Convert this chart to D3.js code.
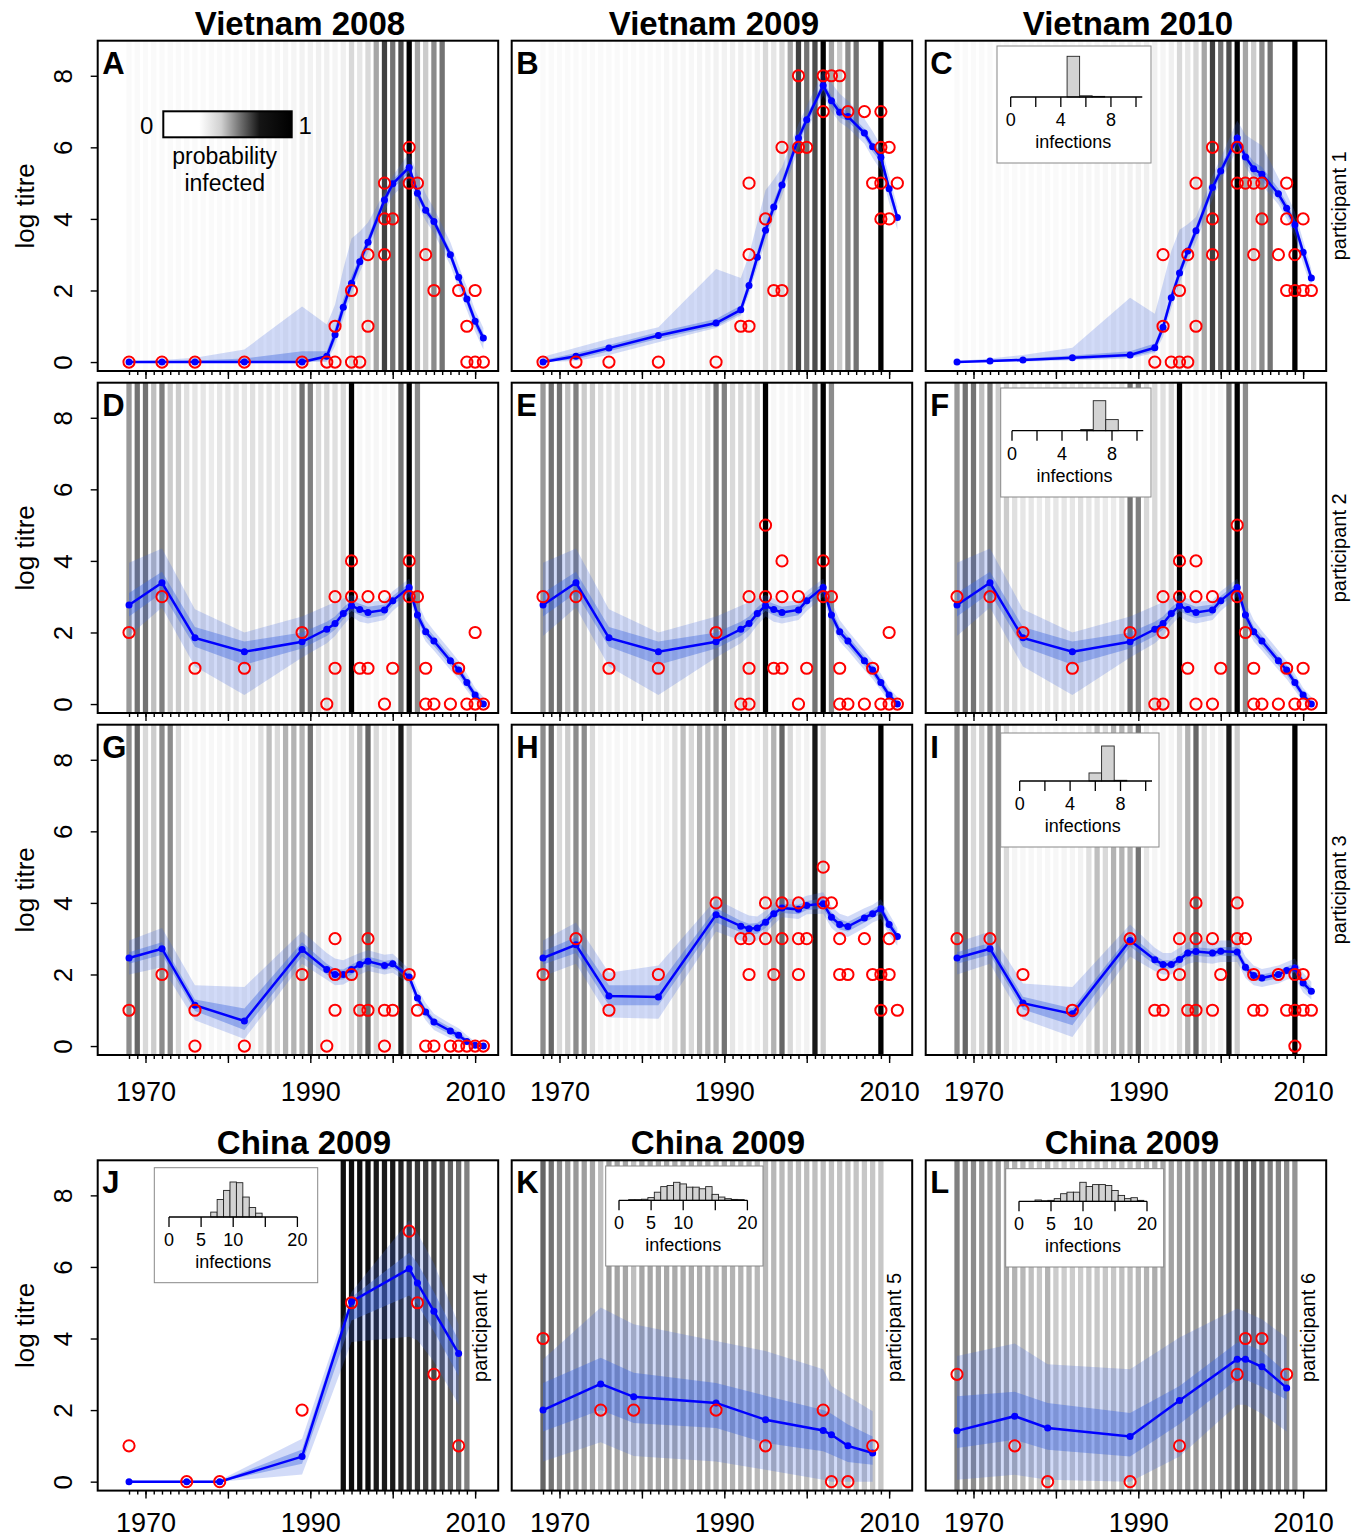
<!DOCTYPE html>
<html>
<head>
<meta charset="utf-8">
<script src="https://cdn.jsdelivr.net/npm/d3@7"></script>
<style>
  body { margin: 0; background: #fff; }
  svg text { font-family: "Liberation Sans", Arial, Helvetica, sans-serif; fill: #000; }
</style>
</head>
<body>
<svg id="chart" width="1361" height="1538"></svg>
<script>
// ---------------- podatki ----------------
const stripYears = [1968,1969,1970,1971,1972,1973,1974,1975,1976,1977,1978,1979,1980,1981,1982,1983,1984,1985,1986,1987,1988,1989,1990,1991,1992,1993,1994,1995,1996,1997,1998,1999,2000,2001,2002,2003,2004,2005,2006,2007,2008,2009,2010,2011];
const vnYears = [1968,1972,1976,1982,1989,1992,1993,1994,1995,1996,1997,1999,2000,2002,2003,2004,2005,2007,2008,2009,2010,2011];
const cnYears = [1968,1975,1979,1989,1995,2002,2003,2005,2008];

const columnTitles = ["Vietnam 2008", "Vietnam 2009", "Vietnam 2010"];
const chinaTitles = ["China 2009", "China 2009", "China 2009"];
const participantLabels = ["participant 1", "participant 2", "participant 3", "participant 4", "participant 5", "participant 6"];
const yTickValues = [0, 2, 4, 6, 8];
const xMinorTicks = stripYears.slice(0, 43);
const xMajorTicks = [1970, 1980, 1990, 2000, 2010];
const xTickLabels = [1970, 1990, 2010];

// verjetnost okužbe po letih (sivi stolpci)
const probA = [0.02,0.02,0.02,0.02,0.02,0.02,0.02,0.02,0.02,0.02,0.02,0.02,0.02,0.02,0.02,0.03,0.03,0.03,0.03,0.04,0.04,0.05,0.05,0.06,0.06,0.04,0.06,0.15,0.1,0.15,0.35,0.75,0.55,0.7,1.0,0.35,0.2,0.45,0.55,0,0,0,0,0];
const probB = [0.02,0.02,0.02,0.02,0.02,0.02,0.02,0.02,0.02,0.02,0.02,0.02,0.02,0.02,0.02,0.03,0.03,0.03,0.03,0.04,0.04,0.05,0.05,0.06,0.06,0.04,0.06,0.15,0.1,0.15,0.35,0.75,0.55,0.7,1.0,0.35,0.2,0.45,0.55,0,0,1.0,0,0];
const probP2 = [0.4,0.55,0.55,0.25,0.5,0.2,0.2,0.12,0.1,0.1,0.08,0.1,0.1,0.1,0.1,0.12,0.1,0.1,0.08,0.08,0.12,0.55,0.5,0.15,0.15,0.12,0.15,1.0,0.03,0.03,0.03,0.03,0.03,0.55,1.0,0.45,0,0,0,0,0,0,0,0];
const probG = [0.45,0.6,0.15,0.2,0.45,0.45,0.15,0.04,0.03,0.03,0.03,0.03,0.03,0.04,0.04,0.05,0.12,0.25,0.15,0.3,0.3,0.3,0.55,0.1,0.04,0.04,0.04,0.15,0.3,0.6,0.15,0.05,0.05,0.9,0.2,0,0,0,0,0,0,0,0,0];
const probH = [0.45,0.6,0.15,0.2,0.45,0.45,0.15,0.04,0.03,0.03,0.03,0.03,0.03,0.04,0.04,0.05,0.12,0.25,0.15,0.3,0.3,0.3,0.55,0.1,0.04,0.04,0.04,0.15,0.3,0.6,0.15,0.05,0.05,0.9,0.2,0,0,0,0,0,0,1.0,0,0];
const probJ = [0,0,0,0,0,0,0,0,0,0,0,0,0,0,0,0,0,0,0,0,0,0,0,0,0,0,0.95,0.95,0.95,0.95,0.9,0.9,0.9,0.85,0.8,0.78,0.75,0.72,0.68,0.62,0.58,0.5,0,0];
const probK = [0.6,0.55,0.45,0.4,0.4,0.38,0.35,0.25,0.38,0.36,0.35,0.25,0.35,0.35,0.34,0.34,0.33,0.33,0.33,0.32,0.32,0.3,0.32,0.3,0.3,0.3,0.28,0.28,0.28,0.27,0.27,0.26,0.26,0.25,0.25,0.24,0.24,0.23,0.23,0.22,0.22,0.22,0,0];
const probL = [0.5,0.45,0.45,0.4,0.38,0.38,0.35,0.3,0.28,0.25,0.22,0.3,0.2,0.2,0.2,0.2,0.22,0.22,0.22,0.22,0.25,0.25,0.28,0.3,0.32,0.34,0.36,0.38,0.4,0.4,0.42,0.44,0.46,0.5,0.58,0.6,0.58,0.55,0.5,0.48,0.45,0.42,0,0];

// modelirani titri: mediana in intervala (95 % in 50 %)
const medA  = [0,0,0,0,0,0.16,0.76,1.53,2.2,2.8,3.35,4.53,4.98,5.44,4.72,4.24,3.93,3.0,2.37,1.76,1.14,0.67];
const hi95A = [0.03,0.06,0.12,0.35,1.55,1.05,1.6,2.6,3.45,3.65,3.9,4.75,5.2,5.85,5.25,4.7,4.3,3.35,2.7,2.1,1.45,0.95];
const lo95A = [0,0,0,0,0,0,0.45,1.2,1.9,2.5,3.05,4.2,4.65,5.1,4.4,3.95,3.6,2.7,2.05,1.45,0.85,0.35];
const hi50A = [0.01,0.02,0.04,0.1,0.3,0.3,0.95,1.75,2.4,2.95,3.5,4.65,5.1,5.55,4.85,4.35,4.05,3.12,2.5,1.9,1.28,0.8];
const lo50A = [0,0,0,0,0,0.05,0.6,1.35,2.05,2.65,3.2,4.4,4.85,5.3,4.6,4.12,3.8,2.88,2.25,1.62,1.0,0.52];

const medB  = [0,0.16,0.39,0.74,1.09,1.46,2.14,2.93,3.68,4.33,4.95,6.26,6.77,7.73,7.3,6.98,6.86,6.4,6.02,5.72,4.84,4.04];
const hi95B = [0.15,0.4,0.65,0.97,2.6,2.35,3.0,3.9,4.8,5.1,5.45,6.65,7.15,8.15,7.8,7.5,7.3,6.8,6.45,6.05,5.2,4.35];
const lo95B = [0,0.03,0.2,0.55,0.95,1.3,1.9,2.65,3.35,4.05,4.65,5.95,6.45,7.45,7.0,6.7,6.55,6.1,5.7,5.35,4.45,3.7];
const hi50B = [0.05,0.25,0.48,0.84,1.2,1.58,2.3,3.1,3.85,4.5,5.1,6.4,6.9,7.85,7.45,7.12,7.0,6.52,6.15,5.85,4.98,4.15];
const lo50B = [0,0.08,0.3,0.65,1.0,1.36,2.0,2.78,3.52,4.18,4.8,6.12,6.62,7.6,7.15,6.84,6.72,6.28,5.88,5.58,4.68,3.9];

const medC  = [0,0.03,0.06,0.12,0.2,0.4,0.97,1.8,2.49,3.1,3.67,4.88,5.34,6.26,5.73,5.4,5.25,4.7,4.3,3.84,3.07,2.35];
const hi95C = [0.03,0.1,0.2,0.4,1.8,1.35,2.2,3.1,3.7,3.85,4.05,5.2,5.7,6.75,6.35,6.2,6.05,5.15,4.7,4.2,3.4,2.6];
const lo95C = [0,0,0.01,0.05,0.1,0.25,0.7,1.5,2.2,2.8,3.35,4.55,5.05,5.95,5.45,5.1,4.95,4.4,4.0,3.5,2.75,2.05];
const hi50C = [0.01,0.05,0.1,0.18,0.3,0.52,1.12,1.95,2.62,3.22,3.8,5.0,5.48,6.4,5.9,5.6,5.45,4.85,4.45,3.98,3.2,2.48];
const lo50C = [0,0.01,0.03,0.08,0.14,0.3,0.84,1.65,2.36,2.96,3.52,4.74,5.2,6.12,5.58,5.24,5.08,4.55,4.15,3.68,2.92,2.2];

const medP2  = [2.77,3.39,1.85,1.46,1.74,2.09,2.25,2.53,2.75,2.64,2.56,2.63,2.89,3.26,2.49,2.02,1.76,1.21,0.95,0.6,0.25,0.0];
const hi95P2 = [3.95,4.35,2.65,2.0,2.45,2.75,2.85,2.95,3.05,2.95,2.85,2.9,3.15,3.5,2.85,2.35,2.05,1.5,1.2,0.85,0.45,0.2];
const lo95P2 = [1.9,2.7,1.05,0.25,1.3,1.7,1.9,2.2,2.45,2.3,2.25,2.35,2.6,3.0,2.2,1.75,1.5,0.95,0.7,0.38,0.08,0];
const hi50P2 = [3.1,3.7,2.15,1.75,2.0,2.3,2.45,2.7,2.9,2.8,2.72,2.78,3.02,3.38,2.65,2.17,1.9,1.34,1.08,0.72,0.35,0.08];
const lo50P2 = [2.45,3.1,1.6,1.1,1.55,1.9,2.08,2.38,2.6,2.48,2.4,2.48,2.76,3.12,2.35,1.88,1.62,1.08,0.82,0.48,0.15,0];

const medG  = [2.46,2.72,1.14,0.70,2.70,2.14,2.0,2.0,2.14,2.28,2.37,2.25,2.3,1.93,1.34,0.95,0.67,0.42,0.3,0.13,0.02,0];
const hi95G = [2.95,3.3,1.7,1.65,3.2,2.6,2.45,2.4,2.5,2.6,2.68,2.55,2.58,2.15,1.6,1.2,0.9,0.62,0.5,0.3,0.12,0.04];
const lo95G = [2.0,2.2,0.72,0.2,2.3,1.85,1.7,1.72,1.85,2.0,2.1,2.0,2.05,1.75,1.1,0.72,0.45,0.22,0.12,0.02,0,0];
const hi50G = [2.62,2.9,1.3,1.05,2.9,2.3,2.15,2.14,2.27,2.4,2.5,2.38,2.42,2.02,1.45,1.05,0.78,0.52,0.4,0.2,0.06,0.01];
const lo50G = [2.3,2.55,0.98,0.45,2.5,2.0,1.85,1.86,2.0,2.15,2.25,2.12,2.18,1.85,1.22,0.85,0.56,0.32,0.2,0.06,0,0];

const medH  = [2.46,2.83,1.40,1.37,3.67,3.35,3.28,3.3,3.46,3.7,3.86,3.82,3.93,3.98,3.6,3.4,3.34,3.58,3.7,3.84,3.4,3.06];
const hi95H = [2.95,3.45,2.05,2.25,4.1,3.75,3.65,3.62,3.78,3.98,4.12,4.1,4.2,4.3,3.9,3.7,3.62,3.85,3.95,4.1,3.7,3.3];
const lo95H = [1.95,2.3,0.8,0.76,3.2,2.95,2.9,2.95,3.15,3.4,3.6,3.55,3.68,3.7,3.3,3.1,3.05,3.3,3.45,3.55,3.1,2.8];
const hi50H = [2.65,3.05,1.7,1.7,3.85,3.5,3.42,3.44,3.6,3.82,3.98,3.95,4.05,4.12,3.74,3.54,3.47,3.7,3.82,3.96,3.54,3.18];
const lo50H = [2.28,2.6,1.14,1.14,3.45,3.18,3.12,3.14,3.3,3.56,3.72,3.68,3.8,3.84,3.46,3.26,3.2,3.45,3.58,3.7,3.25,2.93];

const medI  = [2.46,2.72,1.2,0.9,2.95,2.41,2.28,2.28,2.42,2.6,2.64,2.6,2.65,2.63,2.2,1.97,1.9,2.0,2.11,2.18,1.76,1.53];
const hi95I = [2.9,3.2,1.75,1.65,3.4,2.75,2.6,2.6,2.75,2.9,2.95,2.9,2.95,2.95,2.5,2.25,2.15,2.25,2.35,2.45,2.05,1.8];
const lo95I = [2.0,2.3,0.75,0.25,2.5,2.1,2.0,2.0,2.15,2.3,2.35,2.3,2.35,2.35,1.9,1.7,1.65,1.75,1.85,1.9,1.5,1.3];
const hi50I = [2.62,2.88,1.38,1.05,3.12,2.54,2.4,2.4,2.54,2.72,2.76,2.72,2.77,2.76,2.32,2.08,2.0,2.1,2.22,2.3,1.88,1.64];
const lo50I = [2.3,2.55,1.02,0.58,2.78,2.28,2.16,2.16,2.3,2.48,2.52,2.48,2.53,2.5,2.08,1.86,1.8,1.9,2.0,2.06,1.64,1.42];

const medJ  = [0,0,0,0.7,5.03,5.95,5.55,4.76,3.58];
const hi95J = [0.04,0.04,0.04,1.2,5.3,7.3,6.95,6.1,4.4];
const lo95J = [0,0,0,0.2,3.9,4.05,3.95,3.35,2.15];
const hi50J = [0.02,0.02,0.02,0.9,5.15,6.4,6.1,5.3,3.95];
const lo50J = [0,0,0,0.5,4.5,5.2,4.95,4.2,2.95];

const medK  = [2.0,2.73,2.37,2.2,1.73,1.43,1.31,1.0,0.8];
const hi95K = [3.42,4.87,4.4,3.93,3.65,3.14,2.67,2.39,1.97];
const lo95K = [0.56,1.1,0.72,0.56,0.33,0.05,0,0,0];
const hi50K = [2.76,3.46,3.04,2.76,2.4,2.0,1.9,1.6,1.26];
const lo50K = [1.4,2.0,1.64,1.5,1.08,0.85,0.75,0.55,0.47];

const medL  = [1.42,1.83,1.5,1.26,2.27,3.42,3.42,3.21,2.62];
const hi95L = [3.51,3.86,3.28,3.14,4.03,4.84,4.75,4.54,4.03];
const lo95L = [0.05,0.19,0.05,0,0.7,2.15,2.15,1.9,1.4];
const hi50L = [2.39,2.51,2.2,1.92,2.67,3.89,3.85,3.65,3.04];
const lo50L = [0.94,1.17,0.89,0.7,1.61,2.86,2.85,2.65,2.29];

// izmerjeni titri [leto, log titer]
const obsA = [[1968,0],[1972,0],[1976,0],[1982,0],[1989,0],[1992,0],[1993,0],[1993,1],[1995,0],[1995,2],[1996,0],[1997,1],[1997,3],[1999,3],[1999,4],[1999,5],[2000,4],[2002,6],[2002,5],[2003,5],[2004,3],[2005,2],[2008,2],[2009,1],[2009,0],[2010,2],[2010,0],[2011,0]];
const obsB = [[1968,0],[1972,0],[1976,0],[1982,0],[1989,0],[1992,1],[1993,1],[1993,3],[1993,5],[1995,4],[1996,2],[1997,2],[1997,6],[1999,6],[2000,6],[1999,8],[2002,8],[2003,8],[2004,8],[2002,7],[2005,7],[2007,7],[2009,7],[2009,6],[2010,6],[2008,5],[2009,5],[2011,5],[2009,4],[2010,4]];
const obsC = [[1992,0],[1993,1],[1994,0],[1995,0],[1996,0],[1995,2],[1997,1],[1993,3],[1996,3],[1999,3],[1999,4],[1997,5],[1999,6],[2002,6],[2002,5],[2003,5],[2004,5],[2005,5],[2005,4],[2004,3],[2007,3],[2008,5],[2008,4],[2009,3],[2010,4],[2008,2],[2009,2],[2010,2],[2011,2]];
const obsD = [[1968,2],[1972,3],[1976,1],[1982,1],[1989,2],[1992,0],[1993,3],[1993,1],[1995,4],[1995,3],[1996,1],[1997,1],[1997,3],[1999,3],[1999,0],[2000,1],[2002,4],[2002,3],[2003,3],[2004,1],[2004,0],[2005,0],[2007,0],[2008,1],[2009,0],[2010,2],[2010,0],[2011,0]];
const obsE = [[1968,3],[1972,3],[1976,1],[1982,1],[1989,2],[1992,0],[1993,0],[1993,3],[1993,1],[1995,5],[1995,3],[1996,1],[1997,1],[1997,4],[1997,3],[1999,3],[1999,0],[2000,1],[2002,4],[2002,3],[2003,3],[2004,1],[2004,0],[2005,0],[2007,0],[2008,1],[2009,0],[2010,2],[2010,0],[2011,0]];
const obsF = [[1968,3],[1972,3],[1976,2],[1982,1],[1989,2],[1992,0],[1993,0],[1993,3],[1993,2],[1995,4],[1995,3],[1996,1],[1997,4],[1997,3],[1997,0],[1999,3],[1999,0],[2000,1],[2002,5],[2002,3],[2003,2],[2004,1],[2004,0],[2005,0],[2007,0],[2008,1],[2009,0],[2010,1],[2010,0],[2011,0]];
const obsG = [[1968,1],[1972,2],[1976,1],[1976,0],[1982,0],[1989,2],[1992,0],[1993,3],[1993,2],[1993,1],[1995,2],[1996,1],[1997,1],[1997,3],[1999,1],[1999,0],[2000,1],[2002,2],[2003,1],[2004,0],[2005,0],[2007,0],[2008,0],[2009,0],[2010,0],[2011,0]];
const obsH = [[1968,2],[1972,3],[1976,2],[1976,1],[1982,2],[1989,4],[1992,3],[1993,3],[1993,2],[1995,4],[1995,3],[1996,2],[1997,4],[1997,3],[1999,4],[1999,3],[1999,2],[2000,3],[2002,5],[2002,4],[2003,4],[2004,3],[2004,2],[2005,2],[2007,3],[2008,2],[2009,2],[2009,1],[2010,3],[2010,2],[2011,1]];
const obsI = [[1968,3],[1972,3],[1976,2],[1976,1],[1982,1],[1989,3],[1992,1],[1993,1],[1993,2],[1995,3],[1995,2],[1996,1],[1997,1],[1997,3],[1997,4],[1999,3],[1999,1],[2000,2],[2002,4],[2002,3],[2003,3],[2004,2],[2004,1],[2005,1],[2007,2],[2008,1],[2009,2],[2009,1],[2009,0],[2010,2],[2010,1],[2011,1]];
const obsJ = [[1968,1],[1975,0],[1979,0],[1989,2],[1995,5],[2002,7],[2003,5],[2005,3],[2008,1]];
const obsK = [[1968,4],[1975,2],[1979,2],[1989,2],[1995,1],[2002,2],[2003,0],[2005,0],[2008,1]];
const obsL = [[1968,3],[1975,1],[1979,0],[1989,0],[1995,1],[2002,3],[2003,4],[2005,4],[2008,3]];

// histogrami števila okužb (relativna višina)
const histC = { bins: [5,6,7], freq: [1.0,0.03,0.015] };
const histF = { bins: [6,7,8], freq: [0.04,1.0,0.37] };
const histI = { bins: [6,7,8], freq: [0.23,1.0,0.02] };
const histJ = { bins: [7,8,9,10,11,12,13,14], freq: [0.14,0.5,0.76,1.0,0.98,0.57,0.27,0.11] };
const histK = { bins: [2,3,4,5,6,7,8,9,10,11,12,13,14,15,16,17,18,19], freq: [0.04,0.04,0.06,0.15,0.45,0.76,0.82,1.0,0.91,0.73,0.73,0.64,0.76,0.33,0.18,0.09,0.05,0.04] };
const histL = { bins: [3,4,5,6,7,8,9,10,11,12,13,14,15,16,17,18,19], freq: [0.07,0.03,0.05,0.14,0.4,0.48,0.48,1.0,0.78,0.88,0.88,0.83,0.57,0.31,0.14,0.19,0.05] };
const histTicks10 = [0,2,4,6,8,10], histLabels10 = [0,4,8];
const histTicks20 = [0,5,10,15,20], histLabels20 = [0,5,10,20];

// ---------------- postavitev ----------------
const colLeft = [97.7, 511.7, 925.7];
const rowTop = [40.7, 382.7, 724.7, 1160.3];
const panelW = 400.5, panelH = 330.3;
const xLabelOffset = [0, 0, 45.5, 41.5];

// položaj vložkov (relativno na panel)
const insetLayout = {
    C: { bx: 71.3, by: 5.3, bw: 154, bh: 117, x0: 85, unit: 12.53, axisY: 56.3, maxH: 40.7, axisMax: 10.5, big: false },
    F: { bx: 75, by: 5.3, bw: 150.3, bh: 109, x0: 86.3, unit: 12.5, axisY: 48, maxH: 30, axisMax: 10.5, big: false },
    I: { bx: 75, by: 8.3, bw: 158.3, bh: 114, x0: 94, unit: 12.6, axisY: 56.3, maxH: 35, axisMax: 10.5, big: false },
    J: { bx: 56.6, by: 7.4, bw: 163.4, bh: 115, x0: 71.3, unit: 6.42, axisY: 56.7, maxH: 35, axisMax: 20, big: true },
    K: { bx: 94, by: 5.7, bw: 157.3, bh: 100, x0: 107.3, unit: 6.42, axisY: 40, maxH: 18, axisMax: 20, big: true },
    L: { bx: 80, by: 8.4, bw: 158, bh: 98.3, x0: 93.3, unit: 6.4, axisY: 41, maxH: 19, axisMax: 20, big: true }
};

const panels = [
    { letter: "A", row: 0, col: 0, years: vnYears, med: medA, hi95: hi95A, lo95: lo95A, hi50: hi50A, lo50: lo50A, obs: obsA, prob: probA, legend: true },
    { letter: "B", row: 0, col: 1, years: vnYears, med: medB, hi95: hi95B, lo95: lo95B, hi50: hi50B, lo50: lo50B, obs: obsB, prob: probB },
    { letter: "C", row: 0, col: 2, years: vnYears, med: medC, hi95: hi95C, lo95: lo95C, hi50: hi50C, lo50: lo50C, obs: obsC, prob: probB, hist: histC },
    { letter: "D", row: 1, col: 0, years: vnYears, med: medP2, hi95: hi95P2, lo95: lo95P2, hi50: hi50P2, lo50: lo50P2, obs: obsD, prob: probP2 },
    { letter: "E", row: 1, col: 1, years: vnYears, med: medP2, hi95: hi95P2, lo95: lo95P2, hi50: hi50P2, lo50: lo50P2, obs: obsE, prob: probP2 },
    { letter: "F", row: 1, col: 2, years: vnYears, med: medP2, hi95: hi95P2, lo95: lo95P2, hi50: hi50P2, lo50: lo50P2, obs: obsF, prob: probP2, hist: histF },
    { letter: "G", row: 2, col: 0, years: vnYears, med: medG, hi95: hi95G, lo95: lo95G, hi50: hi50G, lo50: lo50G, obs: obsG, prob: probG },
    { letter: "H", row: 2, col: 1, years: vnYears, med: medH, hi95: hi95H, lo95: lo95H, hi50: hi50H, lo50: lo50H, obs: obsH, prob: probH },
    { letter: "I", row: 2, col: 2, years: vnYears, med: medI, hi95: hi95I, lo95: lo95I, hi50: hi50I, lo50: lo50I, obs: obsI, prob: probH, hist: histI },
    { letter: "J", row: 3, col: 0, years: cnYears, med: medJ, hi95: hi95J, lo95: lo95J, hi50: hi50J, lo50: lo50J, obs: obsJ, prob: probJ, hist: histJ, participant: 3 },
    { letter: "K", row: 3, col: 1, years: cnYears, med: medK, hi95: hi95K, lo95: lo95K, hi50: hi50K, lo50: lo50K, obs: obsK, prob: probK, hist: histK, participant: 4 },
    { letter: "L", row: 3, col: 2, years: cnYears, med: medL, hi95: hi95L, lo95: lo95L, hi50: hi50L, lo50: lo50L, obs: obsL, prob: probL, hist: histL, participant: 5 }
];

const svg = d3.select("#chart");

// skale
const x = d3.scaleLinear().domain([1964.2, 2012.8]).range([0, panelW]);
const y = d3.scaleLinear().domain([-0.25, 8.98]).range([panelH, 0]);

function grey(p) {
    const v = Math.round(255 * (1 - p));
    return `rgb(${v},${v},${v})`;
}

// gradient za legendo
const grad = svg.append("defs").append("linearGradient").attr("id", "probGrad");
[[0, "#ffffff"], [0.28, "#ffffff"], [0.45, "#d0d0d0"], [0.6, "#707070"], [0.75, "#151515"], [1, "#000000"]]
    .forEach(s => grad.append("stop").attr("offset", s[0]).attr("stop-color", s[1]));

function drawPanel(p, i) {
    const g = svg.append("g")
        .attr("transform", `translate(${colLeft[p.col]},${rowTop[p.row]})`);

    g.append("clipPath").attr("id", "clip" + i)
        .append("rect").attr("width", panelW).attr("height", panelH);

    const inner = g.append("g").attr("clip-path", `url(#clip${i})`);

    // sivi stolpci - verjetnost okužbe
    const strips = stripYears.map((yr, k) => ({ yr: yr, p: p.prob[k] })).filter(d => d.p > 0);
    inner.selectAll(".strip")
        .data(strips)
        .enter()
        .append("rect")
        .attr("class", "strip")
        .attr("x", d => x(d.yr - 0.32))
        .attr("width", d => x(d.yr + 0.32) - x(d.yr - 0.32))
        .attr("y", 0)
        .attr("height", panelH)
        .attr("fill", d => grey(d.p));

    const rows = p.years.map((yr, k) => ({
        yr: yr, med: p.med[k], hi95: p.hi95[k], lo95: p.lo95[k], hi50: p.hi50[k], lo50: p.lo50[k]
    }));

    // intervala zaupanja
    inner.append("path")
        .datum(rows)
        .attr("fill", "rgba(65,105,225,0.24)")
        .attr("d", d3.area().x(d => x(d.yr)).y0(d => y(d.lo95)).y1(d => y(d.hi95)));
    inner.append("path")
        .datum(rows)
        .attr("fill", "rgba(65,105,225,0.42)")
        .attr("d", d3.area().x(d => x(d.yr)).y0(d => y(d.lo50)).y1(d => y(d.hi50)));

    // mediana
    inner.append("path")
        .datum(rows)
        .attr("fill", "none")
        .attr("stroke", "#0000ff")
        .attr("stroke-width", 2.5)
        .attr("d", d3.line().x(d => x(d.yr)).y(d => y(d.med)));

    inner.selectAll(".pt")
        .data(rows)
        .enter()
        .append("circle")
        .attr("cx", d => x(d.yr))
        .attr("cy", d => y(d.med))
        .attr("r", 3.5)
        .attr("fill", "#0000ff");

    // izmerjeni titri
    inner.selectAll(".obs")
        .data(p.obs)
        .enter()
        .append("circle")
        .attr("cx", d => x(d[0]))
        .attr("cy", d => y(d[1]))
        .attr("r", 5.6)
        .attr("fill", "none")
        .attr("stroke", "#ff0000")
        .attr("stroke-width", 2);

    // oznaka panela
    g.append("text")
        .attr("x", 4.5)
        .attr("y", 33)
        .style("font-size", "31px")
        .style("font-weight", "bold")
        .text(p.letter);

    if (p.hist) drawInset(g, p.hist, insetLayout[p.letter]);
    if (p.legend) drawLegend(g);

    // os X
    const xAxisG = g.append("g").attr("transform", `translate(0,${panelH})`);
    xAxisG.call(d3.axisBottom(x).tickValues(xMinorTicks).tickSize(4).tickFormat(""))
        .call(a => a.select(".domain").remove());
    const major = g.append("g").attr("transform", `translate(0,${panelH})`)
        .call(d3.axisBottom(x).tickValues(xMajorTicks).tickSize(8)
            .tickFormat(d => (p.row >= 2 && xTickLabels.includes(d)) ? d : ""))
        .call(a => a.select(".domain").remove());
    g.selectAll(".tick line").attr("stroke", "#000").attr("stroke-width", 1.4);
    major.selectAll("text")
        .attr("y", xLabelOffset[p.row])
        .attr("dy", 0)
        .attr("fill", "#000")
        .style("font-size", "27px")
        .style("font-family", "'Liberation Sans', Arial, sans-serif");

    // os Y samo v prvem stolpcu
    if (p.col === 0) {
        const yAxisG = g.append("g")
            .call(d3.axisLeft(y).tickValues(yTickValues).tickSize(7))
            .call(a => a.select(".domain").remove());
        yAxisG.selectAll("line").attr("stroke", "#000").attr("stroke-width", 1.4);
        yAxisG.selectAll("text")
            .attr("x", 0)
            .attr("dy", 0)
            .attr("transform", "translate(-26,0) rotate(-90)")
            .attr("text-anchor", "middle")
            .attr("fill", "#000")
            .style("font-size", "26px")
            .style("font-family", "'Liberation Sans', Arial, sans-serif");

        g.append("text")
            .attr("transform", `translate(-64,${panelH / 2}) rotate(-90)`)
            .attr("text-anchor", "middle")
            .style("font-size", "26px")
            .text("log titre");
    }

    // okvir
    g.append("rect")
        .attr("width", panelW)
        .attr("height", panelH)
        .attr("fill", "none")
        .attr("stroke", "#000")
        .attr("stroke-width", 2);

    // oznake udeležencev v spodnji vrstici
    if (p.participant !== undefined) {
        g.append("text")
            .attr("transform", `translate(389,${panelH / 2 + 2}) rotate(-90)`)
            .attr("text-anchor", "middle")
            .style("font-size", "20px")
            .text(participantLabels[p.participant]);
    }
}

function drawInset(g, hist, L) {
    const ig = g.append("g");
    ig.append("rect")
        .attr("x", L.bx).attr("y", L.by)
        .attr("width", L.bw).attr("height", L.bh)
        .attr("fill", "#fff")
        .attr("stroke", "#888")
        .attr("stroke-width", 1);

    const hx = d3.scaleLinear().domain([0, 1]).range([L.x0, L.x0 + L.unit]);
    const hy = d3.scaleLinear().domain([0, 1]).range([L.axisY, L.axisY - L.maxH]);

    ig.selectAll(".hbar")
        .data(hist.bins.map((b, k) => ({ b: b, f: hist.freq[k] })))
        .enter()
        .append("rect")
        .attr("x", d => hx(d.b - 0.5))
        .attr("width", hx(1) - hx(0))
        .attr("y", d => hy(d.f))
        .attr("height", d => hy(0) - hy(d.f))
        .attr("fill", "#d3d3d3")
        .attr("stroke", "#222")
        .attr("stroke-width", 0.9);

    const ticks = L.big ? histTicks20 : histTicks10;
    const labels = L.big ? histLabels20 : histLabels10;

    ig.append("line")
        .attr("x1", hx(0)).attr("x2", hx(L.axisMax))
        .attr("y1", L.axisY).attr("y2", L.axisY)
        .attr("stroke", "#000").attr("stroke-width", 1.3);
    ig.selectAll(".htick")
        .data(ticks)
        .enter()
        .append("line")
        .attr("x1", d => hx(d)).attr("x2", d => hx(d))
        .attr("y1", L.axisY).attr("y2", L.axisY + 10)
        .attr("stroke", "#000").attr("stroke-width", 1.3);
    ig.selectAll(".hlab")
        .data(labels)
        .enter()
        .append("text")
        .attr("x", d => hx(d))
        .attr("y", L.axisY + 29)
        .attr("text-anchor", "middle")
        .style("font-size", "18px")
        .text(d => d);
    ig.append("text")
        .attr("x", (hx(0) + hx(L.big ? 20 : 10)) / 2)
        .attr("y", L.axisY + 51)
        .attr("text-anchor", "middle")
        .style("font-size", "18px")
        .text("infections");
}

function drawLegend(g) {
    const lg = g.append("g");
    lg.append("rect")
        .attr("x", 65.6).attr("y", 70.6)
        .attr("width", 128.4).attr("height", 26)
        .attr("fill", "url(#probGrad)")
        .attr("stroke", "#000")
        .attr("stroke-width", 2);
    lg.append("text").attr("x", 49).attr("y", 93.5).attr("text-anchor", "middle")
        .style("font-size", "24px").text("0");
    lg.append("text").attr("x", 207.5).attr("y", 93.5).attr("text-anchor", "middle")
        .style("font-size", "24px").text("1");
    lg.append("text").attr("x", 127).attr("y", 123.5).attr("text-anchor", "middle")
        .style("font-size", "23px").text("probability");
    lg.append("text").attr("x", 127).attr("y", 150).attr("text-anchor", "middle")
        .style("font-size", "23px").text("infected");
}

panels.forEach(drawPanel);

// naslovi stolpcev
columnTitles.forEach((t, c) => {
    svg.append("text")
        .attr("x", colLeft[c] + panelW / 2 + 2)
        .attr("y", 35)
        .attr("text-anchor", "middle")
        .style("font-size", "33px")
        .style("font-weight", "bold")
        .text(t);
});
chinaTitles.forEach((t, c) => {
    svg.append("text")
        .attr("x", colLeft[c] + panelW / 2 + 6)
        .attr("y", 1154)
        .attr("text-anchor", "middle")
        .style("font-size", "33px")
        .style("font-weight", "bold")
        .text(t);
});

// oznake udeležencev 1-3 desno od vrstic
[0, 1, 2].forEach(r => {
    svg.append("text")
        .attr("transform", `translate(1346,${rowTop[r] + panelH / 2}) rotate(-90)`)
        .attr("text-anchor", "middle")
        .style("font-size", "20px")
        .text(participantLabels[r]);
});
</script>
</body>
</html>
